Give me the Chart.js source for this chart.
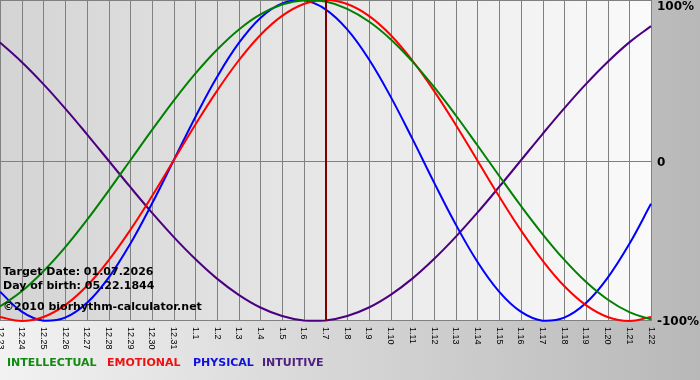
<!DOCTYPE html>
<html><head><meta charset="utf-8">
<script src="https://cdn.jsdelivr.net/npm/chart.js@4.4.1/dist/chart.umd.min.js"></script>
<style>html,body{margin:0;padding:0;background:#fff;overflow:hidden}#wrap{width:700px;height:380px;position:relative}</style>
</head><body><div id="wrap"><canvas id="c" width="700" height="380"></canvas></div>
<script>
const dayLabels = ["12.23","12.24","12.25","12.26","12.27","12.28","12.29","12.30","12.31",
  "1.1","1.2","1.3","1.4","1.5","1.6","1.7","1.8","1.9","1.10","1.11","1.12","1.13","1.14",
  "1.15","1.16","1.17","1.18","1.19","1.20","1.21","1.22"];
const intellectual = [-91.0,-81.5,-69.0,-54.1,-37.2,-18.9,0,18.9,37.2,54.1,69.0,81.5,91.0,97.2,99.9,99.0,
  94.5,86.6,75.6,61.8,45.8,28.2,9.5,-9.5,-28.2,-45.8,-61.8,-75.6,-86.6,-94.5,-99.0];
const emotional = [-97.5,-100,-97.5,-90.1,-78.2,-62.3,-43.4,-22.3,0,22.3,43.4,62.3,78.2,90.1,97.5,100,
  97.5,90.1,78.2,62.3,43.4,22.3,0,-22.3,-43.4,-62.3,-78.2,-90.1,-97.5,-100,-97.5];
const physical = [-81.7,-94.2,-99.8,-97.9,-88.8,-73.1,-52.0,-27.0,0,27.0,52.0,73.1,88.8,97.9,99.8,94.2,
  81.7,63.1,39.8,13.6,-13.6,-39.8,-63.1,-81.7,-94.2,-99.8,-97.9,-88.8,-73.1,-52.0,-27.0];
const intuitive = [73.6,61.4,47.6,32.5,16.5,0,-16.5,-32.5,-47.6,-61.4,-73.6,-83.7,-91.6,-96.9,-99.7,-99.7,
  -96.9,-91.6,-83.7,-73.6,-61.4,-47.6,-32.5,-16.5,0,16.5,32.5,47.6,61.4,73.6,83.7];
const targetLabel = "1.7";
const yTickValues = [100, 0, -100];
const yTickLabels = ["100%", "0", "-100%"];
const legendNames = ["INTELLECTUAL", "EMOTIONAL", "PHYSICAL", "INTUITIVE"];
const infoLines = ["Target Date: 01.07.2026", "Day of birth: 05.22.1844", "\u00A92010 biorhythm-calculator.net"];

const lineColors = ["#008000", "#ff0000", "#0000ff", "#4b0082"];
const legendColors = ["#108a10", "#ee1111", "#1111dd", "#502080"];
const legendX = [7, 107, 193, 262];

const bgPlugin = {
  id: 'bg',
  beforeDraw(chart) {
    const ctx = chart.ctx, a = chart.chartArea;
    const W = chart.width, H = chart.height;
    ctx.save();
    let g = ctx.createLinearGradient(0, 0, W, 0);
    g.addColorStop(0, '#f2f2f2');
    g.addColorStop(1, '#b8b8b8');
    ctx.fillStyle = g;
    ctx.fillRect(0, 0, W, H);
    let g2 = ctx.createLinearGradient(a.left, 0, a.right, 0);
    g2.addColorStop(0, '#d4d4d4');
    g2.addColorStop(1, '#fafafa');
    ctx.fillStyle = g2;
    ctx.fillRect(a.left, a.top, a.right - a.left, a.bottom - a.top);
    const xs = chart.scales.x, ys = chart.scales.y;
    ctx.strokeStyle = '#808080';
    ctx.lineWidth = 1;
    ctx.beginPath();
    for (let i = 0; i < dayLabels.length; i++) {
      const px = Math.round(xs.getPixelForValue(i)) + 0.5;
      ctx.moveTo(px, a.top); ctx.lineTo(px, a.bottom);
    }
    const y0 = Math.round(ys.getPixelForValue(0)) + 0.5;
    ctx.moveTo(a.left, y0); ctx.lineTo(a.right, y0);
    ctx.moveTo(a.left, a.top + 0.5); ctx.lineTo(a.right, a.top + 0.5);
    ctx.moveTo(a.left, a.bottom - 0.5); ctx.lineTo(a.right, a.bottom - 0.5);
    ctx.stroke();
    ctx.restore();
  },
  afterDatasetsDraw(chart) {
    const ctx = chart.ctx, a = chart.chartArea;
    const xs = chart.scales.x, ys = chart.scales.y;
    ctx.save();
    const ti = dayLabels.indexOf(targetLabel);
    const tx = Math.round(xs.getPixelForValue(ti));
    ctx.strokeStyle = '#800000';
    ctx.lineWidth = 2;
    ctx.beginPath(); ctx.moveTo(tx, a.top); ctx.lineTo(tx, a.bottom); ctx.stroke();
    ctx.fillStyle = '#000';
    ctx.font = 'bold 11px "DejaVu Sans"';
    ctx.textBaseline = 'middle';
    ctx.textAlign = 'left';
    const infoY = [272, 286, 307];
    infoLines.forEach((t, i) => ctx.fillText(t, 3, infoY[i]));
    ctx.font = '9px "Liberation Sans"';
    ctx.fillStyle = '#000';
    dayLabels.forEach((lab, i) => {
      const px = xs.getPixelForValue(i);
      ctx.save();
      ctx.translate(px, a.bottom + 6);
      ctx.rotate(Math.PI / 2);
      ctx.textAlign = 'left';
      ctx.textBaseline = 'middle';
      ctx.fillText(lab, 0, 0);
      ctx.restore();
    });
    ctx.font = 'bold 12px "DejaVu Sans"';
    ctx.textAlign = 'left';
    ctx.textBaseline = 'middle';
    yTickValues.forEach((v, i) => {
      let py = ys.getPixelForValue(v) + 2;
      py = Math.max(7, Math.min(322, py));
      ctx.fillText(yTickLabels[i], 657, py);
    });
    ctx.font = 'bold 11px "DejaVu Sans"';
    legendNames.forEach((n, i) => {
      ctx.fillStyle = legendColors[i];
      ctx.fillText(n, legendX[i], 363);
    });
    ctx.restore();
  }
};

const mk = (label, data, color) => ({
  label, data, borderColor: color, borderWidth: 2, pointRadius: 0, tension: 0.4,
  fill: false, clip: 2
});

new Chart(document.getElementById('c'), {
  type: 'line',
  data: {
    labels: dayLabels,
    datasets: [
      mk(legendNames[0], intellectual, lineColors[0]),
      mk(legendNames[1], emotional, lineColors[1]),
      mk(legendNames[2], physical, lineColors[2]),
      mk(legendNames[3], intuitive, lineColors[3])
    ]
  },
  options: {
    responsive: false,
    animation: false,
    devicePixelRatio: 1,
    layout: { padding: { left: 0, right: 49, top: 0, bottom: 59 } },
    scales: {
      x: { type: 'category', display: false, offset: false },
      y: { display: false, min: -100, max: 100 }
    },
    plugins: { legend: { display: false }, tooltip: { enabled: false } }
  },
  plugins: [bgPlugin]
});
</script>
</body></html>
